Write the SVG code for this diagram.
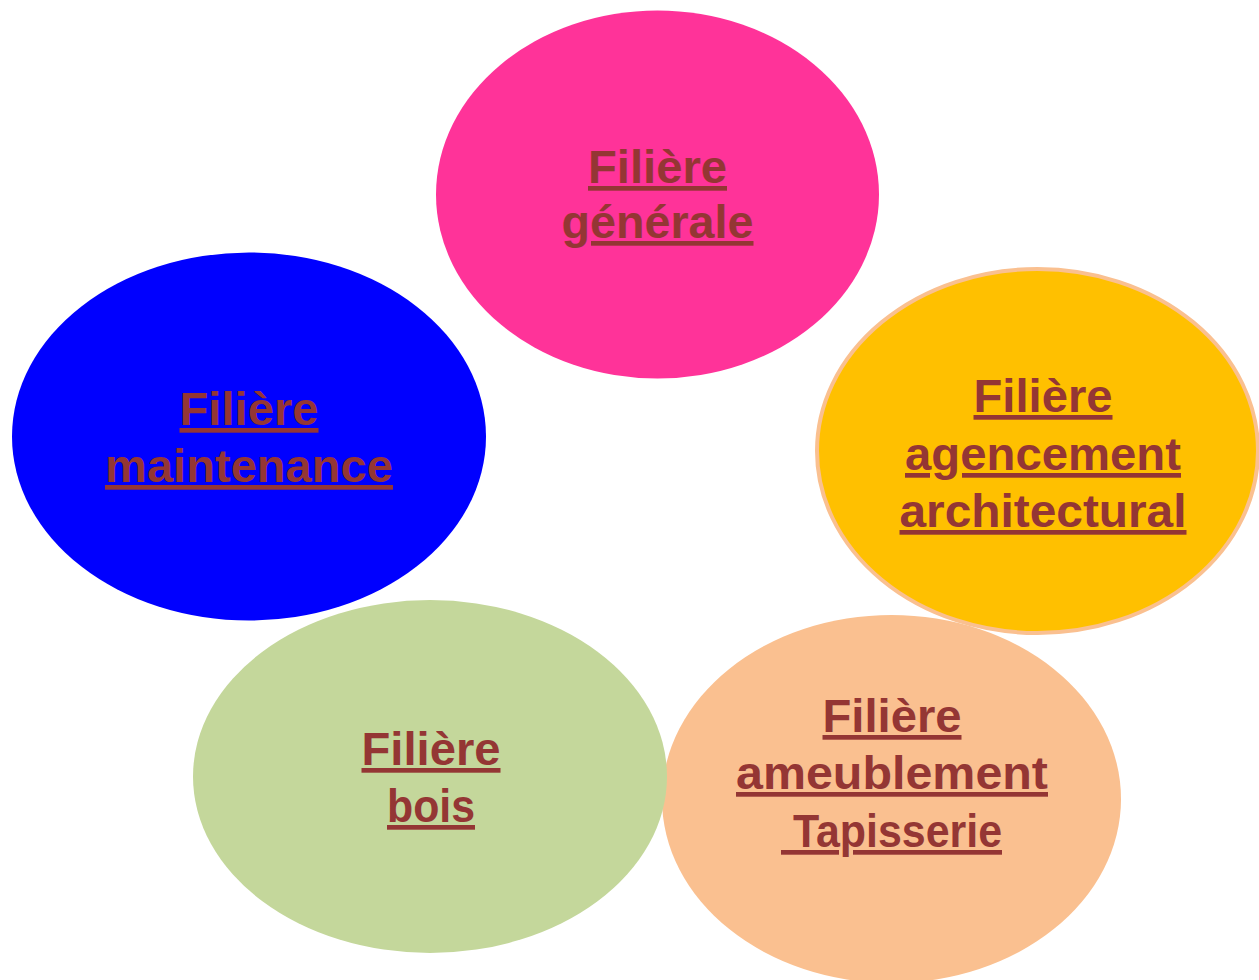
<svg xmlns="http://www.w3.org/2000/svg" width="1259" height="980" viewBox="0 0 1259 980">
<style>
.lbl{font-family:"Liberation Sans",Arial,sans-serif;font-weight:bold;font-size:47px;fill:#943634;text-anchor:middle;text-decoration:underline;}
</style>
<rect width="1259" height="980" fill="#ffffff"/>
<g id="n-generale">
<ellipse cx="657.5" cy="194.5" rx="221.5" ry="184" fill="#FF3399"/>
<text class="lbl" x="657.5" y="183" textLength="139" lengthAdjust="spacingAndGlyphs">Filière</text>
<text class="lbl" x="657.5" y="238" textLength="192" lengthAdjust="spacingAndGlyphs">générale</text>
</g>
<g id="n-maintenance">
<ellipse cx="249" cy="436.5" rx="237" ry="184" fill="#0000FF"/>
<text class="lbl" x="249" y="425" textLength="139" lengthAdjust="spacingAndGlyphs">Filière</text>
<text class="lbl" x="249" y="482" textLength="288" lengthAdjust="spacingAndGlyphs">maintenance</text>
</g>
<g id="n-ameublement">
<ellipse cx="891.5" cy="799" rx="229.5" ry="184" fill="#FAC090"/>
<text class="lbl" x="892" y="732" textLength="139" lengthAdjust="spacingAndGlyphs">Filière</text>
<text class="lbl" x="892" y="789" textLength="312" lengthAdjust="spacingAndGlyphs">ameublement</text>
<text class="lbl" x="891.5" y="847" textLength="221" lengthAdjust="spacingAndGlyphs" xml:space="preserve"> Tapisserie</text>
</g>
<g id="n-agencement">
<ellipse cx="1037.5" cy="451" rx="220.5" ry="182" fill="#FFC000" stroke="#FAC090" stroke-width="4"/>
<text class="lbl" x="1043" y="412" textLength="139" lengthAdjust="spacingAndGlyphs">Filière</text>
<text class="lbl" x="1043" y="470" textLength="276" lengthAdjust="spacingAndGlyphs">agencement</text>
<text class="lbl" x="1043" y="527" textLength="287" lengthAdjust="spacingAndGlyphs">architectural</text>
</g>
<g id="n-bois">
<ellipse cx="430" cy="776.5" rx="237" ry="176.5" fill="#C4D79B"/>
<text class="lbl" x="431" y="765" textLength="139" lengthAdjust="spacingAndGlyphs">Filière</text>
<text class="lbl" x="431" y="822" textLength="88" lengthAdjust="spacingAndGlyphs">bois</text>
</g>
<g id="connectors"></g>
</svg>
